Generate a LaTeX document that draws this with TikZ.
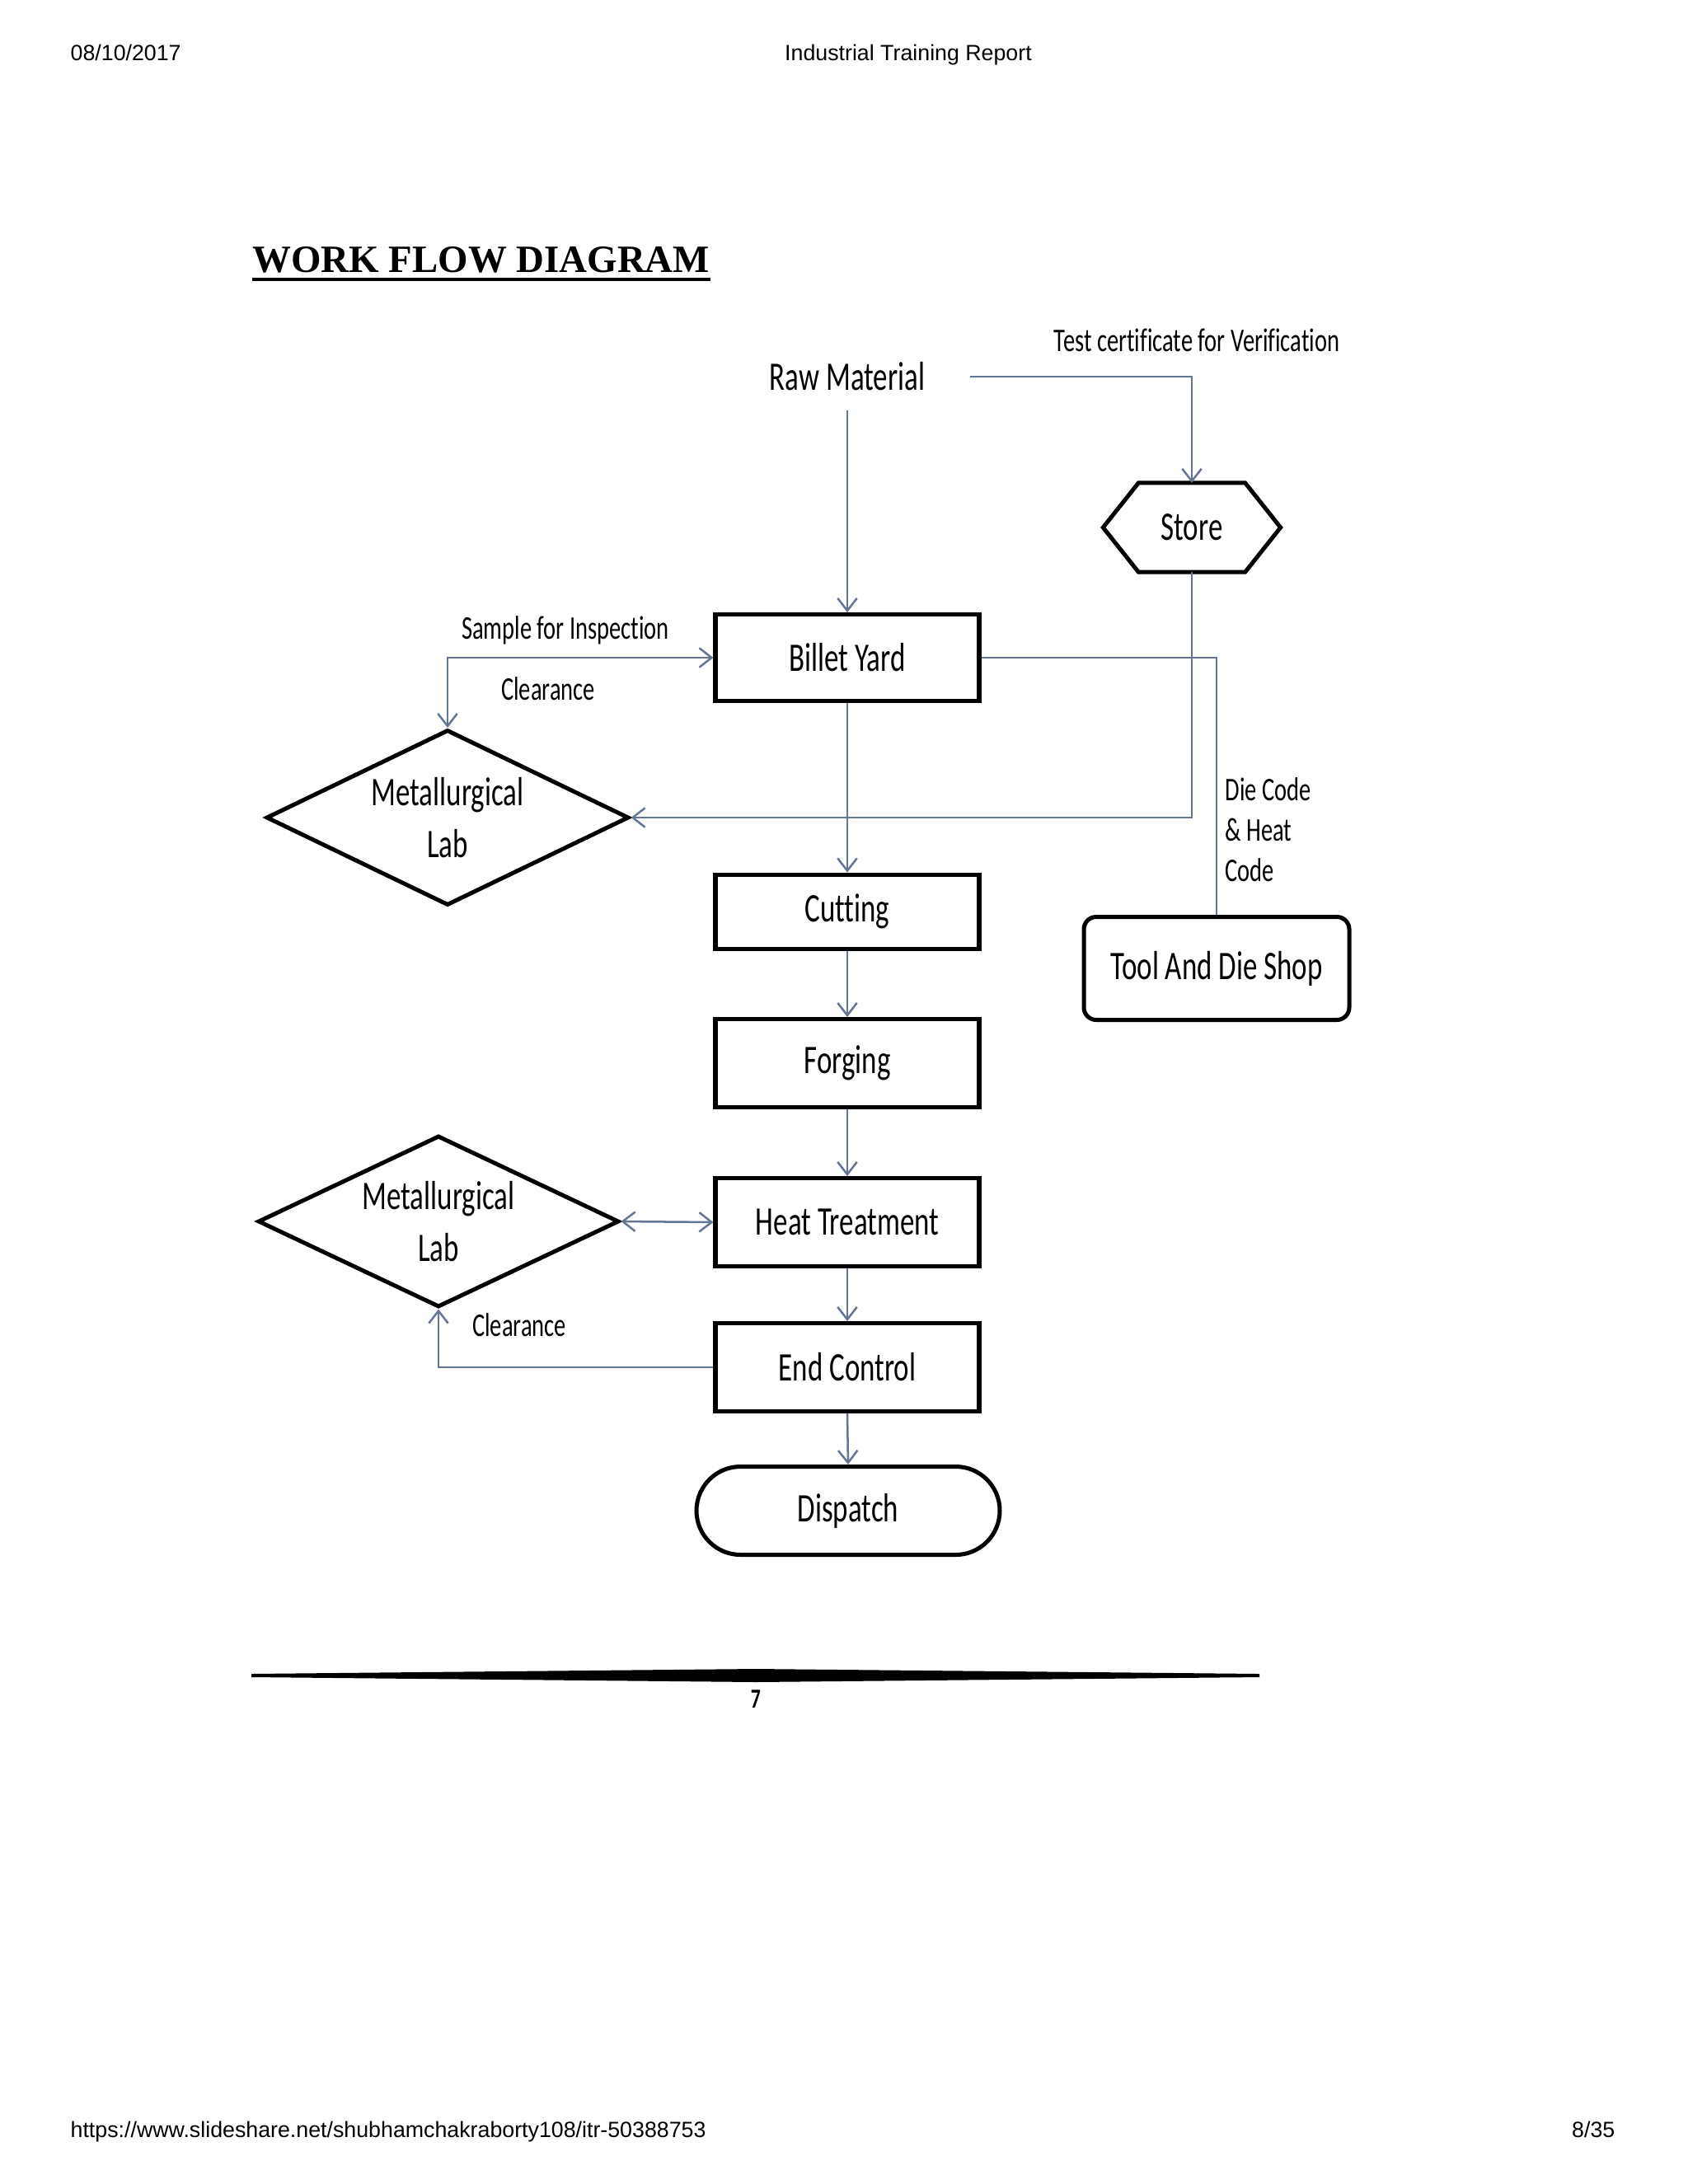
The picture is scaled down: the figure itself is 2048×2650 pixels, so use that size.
\documentclass[tikz,border=0pt]{standalone}
\usepackage{fontspec}
\usetikzlibrary{arrows.meta,shapes.geometric,shapes.misc}
\setmainfont{Liberation Sans}
\newfontfamily\diagfont[FakeStretch=0.71,Ligatures=CommonOff]{Carlito}
\newfontfamily\titlefont{Liberation Serif}
\def\pxu{0.29883pt}
\definecolor{connc}{RGB}{100,118,150}
\tikzset{
  mainfont/.style={font=\diagfont\fontsize{14.7}{17}\selectfont},
  box/.style={draw, line width=1.5pt, minimum width={320*\pxu}, inner sep=0pt, mainfont},
  lab/.style={draw, diamond, aspect=2.07, line width=1.5pt, inner sep=0pt, minimum width={440*\pxu}, minimum height={213*\pxu}, align=center, font=\diagfont\fontsize{14.7}{18.8}\selectfont},
  conn/.style={draw=connc, line width=0.75pt},
  arr/.style={-{Straight Barb[length=4.5pt,width=7pt]}},
  darr/.style={{Straight Barb[length=4.5pt,width=7pt]}-{Straight Barb[length=4.5pt,width=7pt]}},
  lbl/.style={font=\diagfont\fontsize{12}{14.6}\selectfont, inner sep=0pt},
  pagetext/.style={font=\fontsize{8}{10}\selectfont, inner sep=0pt}
}
\begin{document}
\begin{tikzpicture}[x=0.29883pt, y=-0.29883pt]
\fill[white] (0,0) rectangle (2048,2650);
\useasboundingbox (0,0) rectangle (2048,2650);

% page header / footer
\node[pagetext, anchor=base west] (date) at (85,73) {08/10/2017};
\node[pagetext, anchor=base] (hdr) at (1102,73) {Industrial Training Report};
\node[pagetext, anchor=base west] (url) at (85,2593) {https://www.slideshare.net/shubhamchakraborty108/itr-50388753};
\node[pagetext, anchor=base east] (pg) at (1960,2593) {8/35};

% title
\node[anchor=base west, inner sep=0pt, font=\titlefont\bfseries\fontsize{14}{17}\selectfont] (title) at (306,330) {WORK FLOW DIAGRAM};
\draw[line width=1.1pt] ([yshift=-2.6pt]title.base west) -- ([yshift=-2.6pt]title.base east);

% nodes
\node[inner sep=0pt, minimum width={296*\pxu}, minimum height={80*\pxu}, mainfont] (raw) at (1028,457) {Raw Material};
\node[inner sep=0pt, minimum width={214*\pxu}, minimum height={107*\pxu}, mainfont] (store) at (1446,640) {Store};
\draw[line width=1.5pt] (store.west) -- ([xshift={43*\pxu}]store.north west) -- ([xshift={-43*\pxu}]store.north east) -- (store.east) -- ([xshift={-43*\pxu}]store.south east) -- ([xshift={43*\pxu}]store.south west) -- cycle;

\node[box, minimum height={105*\pxu}] (billet) at (1028,798) {Billet Yard};
\node[box, minimum height={90*\pxu}] (cut) at (1028,1106) {Cutting};
\node[box, minimum height={107*\pxu}] (forge) at (1028,1290) {Forging};
\node[box, minimum height={107*\pxu}] (heat) at (1028,1483) {Heat Treatment};
\node[box, minimum height={107*\pxu}] (endc) at (1028,1659) {End Control};
\node[draw, rounded rectangle, line width=1.5pt, minimum width={368*\pxu}, minimum height={107*\pxu}, inner sep=0pt, mainfont] (disp) at (1029,1833) {Dispatch};

\node[draw, line width=1.5pt, rounded corners=4.5pt, minimum width={322*\pxu}, minimum height={125*\pxu}, inner sep=0pt, mainfont] (tool) at (1476,1175) {Tool And Die Shop};

\node[lab] (lab1) at (543,992) {Metallurgical\\Lab};
\node[lab, minimum width={438*\pxu}, minimum height={208*\pxu}] (lab2) at (532,1482) {Metallurgical\\Lab};

% connectors
\draw[conn, arr] (raw.east) -| (store.north);
\draw[conn, arr] (raw.south) -- (billet.north);
\draw[conn, arr] (billet.south) -- (cut.north);
\draw[conn, arr] (cut.south) -- (forge.north);
\draw[conn, arr] (forge.south) -- (heat.north);
\draw[conn, arr] (heat.south) -- (endc.north);
\draw[conn, arr] (endc.south) -- (disp.north);
\draw[conn, darr] (lab1.north) |- (billet.west);
\draw[conn, arr] (store.south) |- (lab1.east);
\draw[conn] (billet.east) -| (tool.north);
\draw[conn, darr] (lab2.east) -- (heat.west);
\draw[conn, arr] (endc.west) -| (lab2.south);

% labels
\node[lbl] (tcv) at (1452,413) {Test certificate for Verification};
\node[lbl] (sfi) at (686,765) {Sample for Inspection};
\node[lbl] (clr1) at (665,836) {Clearance};
\node[lbl, anchor=west, align=left] (dch) at (1486,1007) {Die Code\\\& Heat\\Code};
\node[lbl] (clr2) at (630,1608) {Clearance};

% footer rule and page number
\fill[black] (305,2031) -- (917,2025) -- (1528,2031) -- (1528,2035) -- (917,2041) -- (305,2035) -- cycle;
\node[inner sep=0pt, font=\diagfont\bfseries\fontsize{10}{12}\selectfont] (pnum) at (917,2062) {7};
\end{tikzpicture}
\end{document}
